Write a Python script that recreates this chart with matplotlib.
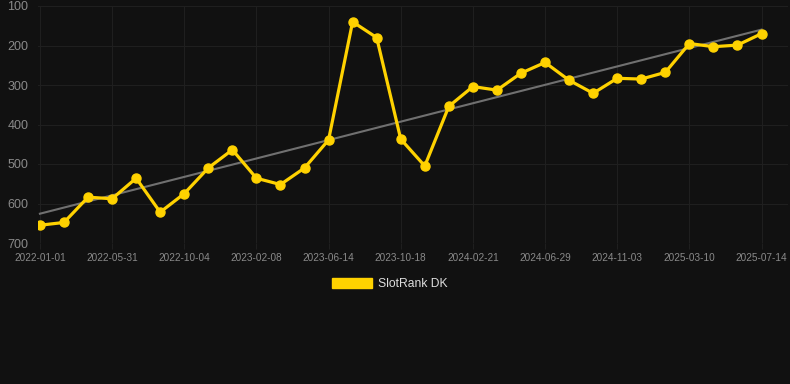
import numpy as np
import matplotlib.pyplot as plt
from matplotlib.patches import Patch

plt.rcParams['font.family'] = ['Liberation Sans', 'DejaVu Sans']

# Observation dates (category axis, every third one labelled)
dates = [
    "2022-01-01", "2022-02-20", "2022-04-11", "2022-05-31", "2022-07-12",
    "2022-08-23", "2022-10-04", "2022-11-15", "2022-12-28", "2023-02-08",
    "2023-03-22", "2023-05-03", "2023-06-14", "2023-07-26", "2023-09-06",
    "2023-10-18", "2023-11-29", "2024-01-10", "2024-02-21", "2024-04-03",
    "2024-05-17", "2024-06-29", "2024-08-10", "2024-09-22", "2024-11-03",
    "2024-12-15", "2025-01-27", "2025-03-10", "2025-04-21", "2025-06-02",
    "2025-07-14",
]

# SlotRank DK rank values
rank = [
    655, 648, 584, 588, 536, 622, 575, 510, 464, 536,
    552, 510, 439, 140, 180, 437, 505, 354, 304, 313,
    270, 243, 288, 321, 283, 285, 268, 195, 203, 199,
    170,
]

y_ticks = [100, 200, 300, 400, 500, 600, 700]

bg = '#111111'
gold = '#FFD200'
grid_col = '#1f1f1f'
text_col = '#8a8a8a'

fig = plt.figure(figsize=(7.9, 3.84), dpi=100, facecolor=bg)
ax = fig.add_axes([38 / 790, 1 - 243 / 384, 750 / 790, 237 / 384])
ax.set_facecolor(bg)

x = np.arange(len(rank))

# linear trend of the series
coef = np.polyfit(x, rank, 1)
ax.plot(x, np.polyval(coef, x), color='#707070', linewidth=1.5, zorder=2)

ax.plot(x, rank, color=gold, linewidth=2.3, marker='o', markersize=6.5,
        markerfacecolor=gold, markeredgecolor=gold, zorder=3)

ax.set_ylim(700, 100)
ax.set_yticks(y_ticks)
ax.set_xlim(-0.08, 31.1)
ax.set_xticks(x[::3])
ax.set_xticklabels(dates[::3])

ax.grid(True, color=grid_col, linewidth=0.8)
ax.set_axisbelow(True)
for s in ax.spines.values():
    s.set_visible(False)

ax.tick_params(axis='y', colors=text_col, labelsize=9, length=0, pad=7)
ax.tick_params(axis='x', colors=text_col, labelsize=7.2, length=4,
               color=grid_col, pad=3)

handles = [Patch(facecolor=gold, edgecolor=gold, label='SlotRank DK')]
fig.legend(handles=handles, loc='center', bbox_to_anchor=(390 / 790, 1 - 284 / 384),
           frameon=False, fontsize=8.7, labelcolor='#dddddd',
           handlelength=3.3, handleheight=0.9, handletextpad=0.5)

fig.savefig('out.png', dpi=100, facecolor=bg)
